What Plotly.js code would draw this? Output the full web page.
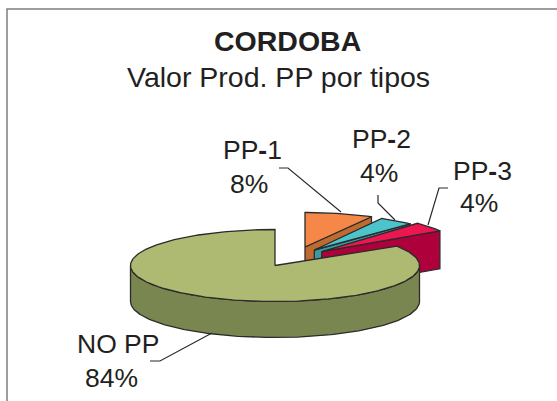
<!DOCTYPE html>
<html><head><meta charset="utf-8">
<script src="https://cdn.plot.ly/plotly-3.0.1.min.js"></script>
<style>html,body{margin:0;padding:0;background:#fff;overflow:hidden}</style>
</head><body><div id="chart" style="width:557px;height:401px"></div>
<script>
const categories = ["PP-1", "PP-2", "PP-3", "NO PP"];
const percents = [8, 4, 4, 84];
const topColors = ["#F58748", "#4DC3CC", "#EE1650", "#AEBA72"];
const sideColors = ["#BF6A30", "#3A9AA3", "#AE003A", "#7A8650"];

// Projection of each (exploded) slice on the page, pixel axes
const geometry = [
  {cx: 305, cy: 247, rx: 138, ry: 34.5, depth: 36},
  {cx: 314.3, cy: 250, rx: 140, ry: 36, depth: 36},
  {cx: 321.7, cy: 251.7, rx: 140, ry: 39, depth: 38},
  {cx: 275, cy: 265.5, rx: 144.5, ry: 36, depth: 36}
];
const labelPos = [
  {name: [252, 150], pct: [249, 184]},
  {name: [381, 139], pct: [379, 173]},
  {name: [482, 171], pct: [479, 203]},
  {name: [118, 344], pct: [111, 378]}
];
const leaders = [
  [[279, 168], [288, 168], [341, 212]],
  [[378, 195], [378, 203], [395, 220]],
  [[448, 188], [439, 188], [428, 225]],
  [[150, 361], [160, 361], [212, 333]]
];

const outline = {color: "#2b2b2b", width: 1.3};
const total = percents.reduce((a, b) => a + b, 0);
let cum = 0;
const spans = percents.map(p => { const s = [cum, cum + p]; cum += p; return s.map(v => v / total * 2 * Math.PI); });

const pt = (g, a) => [g.cx + g.rx * Math.sin(a), g.cy - g.ry * Math.cos(a)];
function arc(g, a0, a1) {
  const n = Math.max(4, Math.ceil((a1 - a0) / 0.02)), out = [];
  for (let i = 0; i <= n; i++) out.push(pt(g, a0 + (a1 - a0) * i / n));
  return out;
}
function poly(points, color) {
  return {type: "scatter", mode: "lines", x: points.map(p => p[0]), y: points.map(p => p[1]),
    fill: "toself", fillcolor: color, line: outline, hoverinfo: "skip", showlegend: false};
}

const traces = [];
geometry.forEach((g, i) => {
  const [a0, a1] = spans[i];
  if (i < 3) {
    const c = pt(g, a1);
    traces.push(poly([[g.cx, g.cy], c, [c[0], c[1] + g.depth], [g.cx, g.cy + g.depth], [g.cx, g.cy]], sideColors[i]));
  } else {
    const rim = arc(g, Math.PI / 2, 3 * Math.PI / 2);
    const low = rim.map(p => [p[0], p[1] + g.depth]).reverse();
    traces.push(poly(rim.concat(low, [rim[0]]), sideColors[i]));
  }
  traces.push(poly([[g.cx, g.cy]].concat(arc(g, a0, a1), [[g.cx, g.cy]]), topColors[i]));
});
leaders.forEach(l => traces.push({type: "scatter", mode: "lines", x: l.map(p => p[0]), y: l.map(p => p[1]),
  line: {color: "#2b2b2b", width: 1.2}, hoverinfo: "skip", showlegend: false}));

const font = "Liberation Sans, Arial, sans-serif";
const note = (text, p, size, bold) => ({text: bold ? "<b>" + text + "</b>" : text, x: p[0], y: p[1], xref: "x", yref: "y",
  showarrow: false, xanchor: "center", yanchor: "middle", font: {family: font, size: size, color: "#231f20"}});
const annotations = [
  note("CORDOBA", [287, 41], 28.5, true),
  note("Valor Prod. PP por tipos", [278.5, 77], 28.5, false)
];
categories.forEach((c, i) => {
  annotations.push(note(c.replace("-", "<b>-</b>"), labelPos[i].name, 26.5, false));
  annotations.push(note(percents[i] + "%", labelPos[i].pct, 26.5, false));
});

Plotly.newPlot("chart", traces, {
  width: 557, height: 401, margin: {l: 0, r: 0, t: 0, b: 0},
  paper_bgcolor: "#fff", plot_bgcolor: "#fff", showlegend: false,
  xaxis: {range: [0, 557], visible: false, fixedrange: true},
  yaxis: {range: [401, 0], visible: false, fixedrange: true},
  shapes: [{type: "rect", xref: "x", yref: "y", x0: 7, y0: 9, x1: 620, y1: 460, line: {color: "#7f7f7f", width: 1.5}, layer: "below"}],
  annotations
}, {displayModeBar: false, staticPlot: true});
</script></body></html>
